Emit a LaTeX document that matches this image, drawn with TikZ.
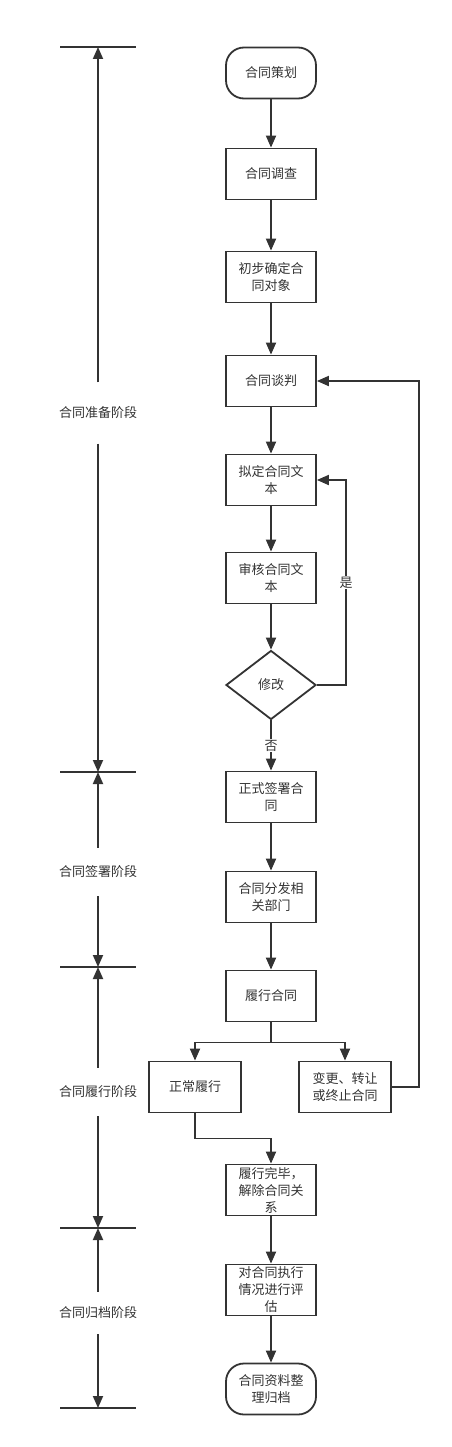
\documentclass[tikz,border=0pt]{standalone}
\usepackage{fontspec}
\setmainfont{Noto Sans CJK SC}
\usetikzlibrary{shapes.geometric,arrows.meta}

\begin{document}
\begin{tikzpicture}[x=1pt,y=-1pt,
    caja/.style={draw=gris,line width=1.8pt,minimum width=90pt,minimum height=51pt,inner sep=0pt,align=center,text=gris,font=\fontsize{13pt}{17pt}\selectfont},
    inicio/.style={caja,rounded corners=18pt},
    decision/.style={caja,diamond,aspect=1.3,minimum width=90pt,minimum height=69pt},
    linea/.style={draw=gris,line width=1.8pt},
    flecha/.style={linea,-{Triangle[length=12pt,width=10pt]}},
    etiq/.style={fill=white,text=gris,inner sep=1pt,font=\fontsize{13pt}{17pt}\selectfont},
    fase/.style={text=gris,inner sep=0pt,minimum height=48pt,font=\fontsize{13pt}{17pt}\selectfont}]
    %colores
    \definecolor{gris}{HTML}{333333}

    % fondo
    \fill[white] (0,0) rectangle (451,1447);
    \useasboundingbox (0,0) rectangle (451,1447);

    % flujo principal
    \node[inicio] (ch) at (271,73) {合同策划};
    \node[caja] (dc) at (271,174) {合同调查};
    \node[caja] (qd) at (271,277) {初步确定合\\同对象};
    \node[caja] (tp) at (271,381) {合同谈判};
    \node[caja] (nd) at (271,480) {拟定合同文\\本};
    \node[caja] (sh) at (271,578) {审核合同文\\本};
    \node[decision] (xg) at (271,685) {修改};
    \node[caja] (qs) at (271,797) {正式签署合\\同};
    \node[caja] (ff) at (271,897) {合同分发相\\关部门};
    \node[caja] (lx) at (271,996) {履行合同};
    \node[caja,minimum width=92pt] (zc) at (195,1087) {正常履行};
    \node[caja,minimum width=92pt] (bg) at (345,1087) {变更、转让\\或终止合同};
    \node[caja] (wb) at (271,1190) {履行完毕，\\解除合同关\\系};
    \node[caja] (pg) at (271,1290) {对合同执行\\情况进行评\\估};
    \node[inicio] (gd) at (271,1389) {合同资料整\\理归档};

    \foreach \a/\b in {ch/dc,dc/qd,qd/tp,tp/nd,nd/sh,sh/xg,qs/ff,ff/lx,wb/pg,pg/gd}
        \draw[flecha] (\a.south) -- (\b.north);

    % decision y retornos
    \draw[flecha] (xg.south) -- node[etiq] {否} (qs.north);
    \coordinate (shi) at (346,480);
    \draw[flecha] (xg.east) -| node[etiq,pos=0.75] {是} (shi) -- (nd.east);
    \draw[linea] (lx.south) -- ++(0,20) coordinate (rama);
    \draw[flecha] (rama) -| (zc.north);
    \draw[flecha] (rama) -| (bg.north);
    \coordinate (vuelta) at (419,381);
    \draw[flecha] (bg.east) -| (vuelta) -- (tp.east);
    \draw[flecha] (zc.south) -- ++(0,25) -| (wb.north);

    % fases
    \foreach \y [count=\i] in {47,772,967,1228,1408}{
        \draw[linea] (60,\y) -- (136,\y);
        \coordinate (m\i) at (98,\y);
    }
    \node[fase,minimum height=61pt] (f1) at (98,413) {合同准备阶段};
    \node[fase] (f2) at (98,872) {合同签署阶段};
    \node[fase] (f3) at (98,1092) {合同履行阶段};
    \node[fase,minimum height=42pt] (f4) at (98,1313) {合同归档阶段};
    \foreach \f/\a/\b in {f1/m1/m2,f2/m2/m3,f3/m3/m4,f4/m4/m5}{
        \draw[flecha] (\f.north) -- (\a);
        \draw[flecha] (\f.south) -- (\b);
    }
\end{tikzpicture}
\end{document}
